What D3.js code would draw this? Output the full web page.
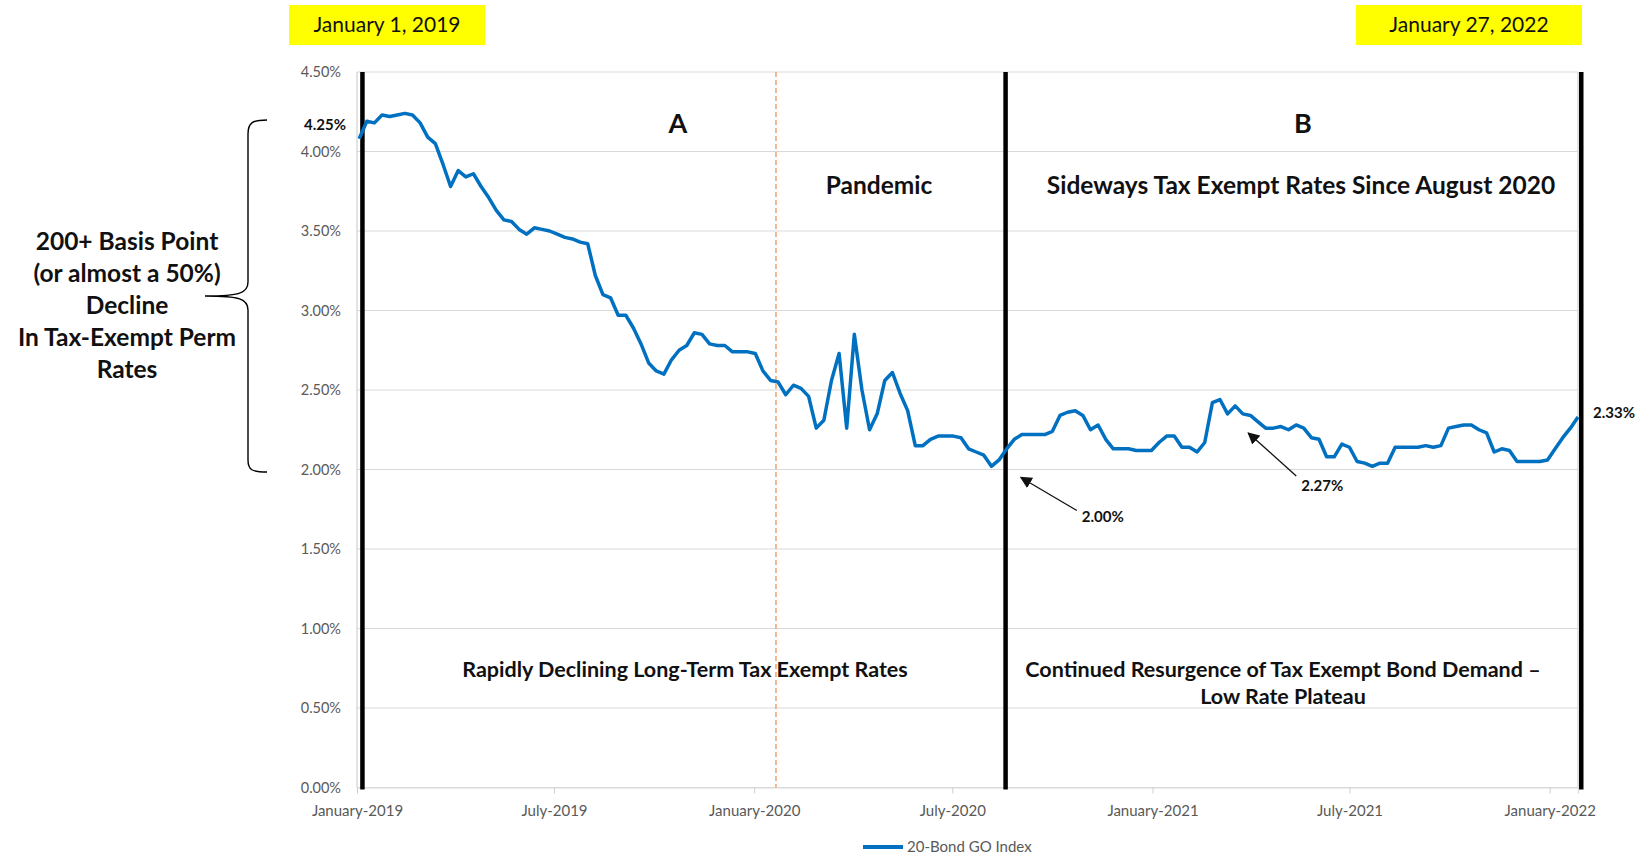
<!DOCTYPE html>
<html>
<head>
<meta charset="utf-8">
<script src="https://cdn.jsdelivr.net/npm/d3@7"></script>
<style>
	body { margin: 0; background: #fff; }
	svg { display: block; font-family: Lato, 'Open Sans', sans-serif; }
</style>
</head>
<body>
<svg id="chart" width="1643" height="855"></svg>
<script>

// Bond Buyer 20-Bond GO Index, weekly (Thursdays), in percent
var rates2019 = [4.08, 4.19, 4.18, 4.23, 4.22, 4.23, 4.24, 4.23, 4.18, 4.09,
	4.05, 3.92, 3.78, 3.88, 3.84, 3.86, 3.78, 3.71, 3.63, 3.57,
	3.56, 3.51, 3.48, 3.52, 3.51, 3.50, 3.48, 3.46, 3.45, 3.43,
	3.42, 3.22, 3.10, 3.08, 2.97, 2.97, 2.89, 2.79, 2.67, 2.62,
	2.60, 2.69, 2.75, 2.78, 2.86, 2.85, 2.79, 2.78, 2.78, 2.74,
	2.74, 2.74];
var rates2020 = [2.73, 2.62, 2.56, 2.55, 2.47, 2.53, 2.51, 2.46, 2.26, 2.31,
	2.56, 2.73, 2.26, 2.85, 2.50, 2.25, 2.35, 2.56, 2.61, 2.48,
	2.37, 2.15, 2.15, 2.19, 2.21, 2.21, 2.21, 2.20, 2.13, 2.11,
	2.09, 2.02, 2.06, 2.13, 2.19, 2.22, 2.22, 2.22, 2.22, 2.24,
	2.34, 2.36, 2.37, 2.34, 2.25, 2.28, 2.19, 2.13, 2.13, 2.13,
	2.12, 2.12, 2.12];
var rates2021 = [2.17, 2.21, 2.21, 2.14, 2.14, 2.11, 2.17, 2.42, 2.44, 2.35,
	2.40, 2.35, 2.34, 2.30, 2.26, 2.26, 2.27, 2.25, 2.28, 2.26,
	2.20, 2.19, 2.08, 2.08, 2.16, 2.14, 2.05, 2.04, 2.02, 2.04,
	2.04, 2.14, 2.14, 2.14, 2.14, 2.15, 2.14, 2.15, 2.26, 2.27,
	2.28, 2.28, 2.25, 2.23, 2.11, 2.13, 2.12, 2.05, 2.05, 2.05,
	2.05, 2.06];
var rates2022 = [2.13, 2.20, 2.26, 2.33];

var firstWeek = '2019-01-03';
var lastWeek = '2022-01-27';
var axisDates = ['2019-01-01', '2022-01-27'];
var xTickDates = ['2019-01-01', '2019-07-01', '2020-01-01', '2020-07-01', '2021-01-01', '2021-07-01', '2022-01-01'];
var yTicks = [0, 0.5, 1, 1.5, 2, 2.5, 3, 3.5, 4, 4.5];
var periodLines = ['2019-01-06', '2020-08-19', '2022-01-30'];
var pandemicLine = '2020-01-21';
var seriesName = '20-Bond GO Index';

var parse = d3.timeParse('%Y-%m-%d');
var rates = rates2019.concat(rates2020, rates2021, rates2022);
var weeks = d3.timeThursday.range(parse(firstWeek), d3.timeDay.offset(parse(lastWeek), 1));
var data = weeks.map(function(d, i) { return {date: d, rate: rates[i]}; });

var plot = {l: 357, r: 1578, t: 72, b: 787.5};
var svg = d3.select('#chart');

var x = d3.scaleTime().domain(axisDates.map(parse)).range([plot.l, plot.r]);
var y = d3.scaleLinear().domain([0, 4.5]).range([plot.b, plot.t]);

// gridlines
svg.append('g').selectAll('line')
	.data(yTicks)
	.enter()
	.append('line')
	.attr('x1', plot.l).attr('x2', plot.r)
	.attr('y1', function(d) { return y(d); })
	.attr('y2', function(d) { return y(d); })
	.style('stroke', '#d9d9d9').style('stroke-width', 1.2);

svg.append('line').attr('x1', plot.l).attr('x2', plot.l).attr('y1', plot.t).attr('y2', plot.b)
	.style('stroke', '#d0d0d0').style('stroke-width', 1.2);
svg.append('line').attr('x1', plot.r).attr('x2', plot.r).attr('y1', plot.t).attr('y2', plot.b)
	.style('stroke', '#d0d0d0').style('stroke-width', 1.2);

// y axis labels
var yAxis = svg.append('g')
	.attr('transform', 'translate(' + (plot.l - 16) + ',0)')
	.call(d3.axisLeft(y).tickValues(yTicks).tickSize(0).tickPadding(0)
		.tickFormat(function(d) { return d.toFixed(2) + '%'; }));
yAxis.attr('font-family', null);
yAxis.select('.domain').remove();
yAxis.selectAll('text').style('font-size', '14.5px').style('fill', '#595959');

// x axis
var xAxis = svg.append('g')
	.attr('transform', 'translate(0,' + plot.b + ')')
	.call(d3.axisBottom(x).tickValues(xTickDates.map(parse)).tickSize(6).tickPadding(12)
		.tickFormat(d3.timeFormat('%B-%Y')));
xAxis.attr('font-family', null);
xAxis.select('.domain').style('stroke', '#d9d9d9').style('stroke-width', 1.2);
xAxis.selectAll('.tick line').style('stroke', '#d0d0d0');
xAxis.selectAll('text').style('font-size', '15px').style('fill', '#595959');

// pandemic marker
svg.append('line')
	.attr('x1', x(parse(pandemicLine))).attr('x2', x(parse(pandemicLine)))
	.attr('y1', plot.t).attr('y2', plot.b)
	.style('stroke', '#f0a068').style('stroke-width', 1.5).style('stroke-dasharray', '5,3');

// period boundaries
svg.append('g').selectAll('line')
	.data(periodLines)
	.enter()
	.append('line')
	.attr('x1', function(d) { return x(parse(d)); })
	.attr('x2', function(d) { return x(parse(d)); })
	.attr('y1', plot.t).attr('y2', plot.b + 2)
	.style('stroke', '#000').style('stroke-width', 4.5);

// series
var line = d3.line()
	.x(function(d) { return x(d.date); })
	.y(function(d) { return y(d.rate); });

svg.append('path')
	.datum(data)
	.attr('d', line)
	.style('fill', 'none')
	.style('stroke', '#0070c0')
	.style('stroke-width', 3.5)
	.style('stroke-linejoin', 'round');

// yellow date boxes
var boxes = [
	{text: 'January 1, 2019', x0: 289, x1: 485},
	{text: 'January 27, 2022', x0: 1356, x1: 1582}
];
boxes.forEach(function(b) {
	svg.append('rect').attr('x', b.x0).attr('y', 5).attr('width', b.x1 - b.x0).attr('height', 40)
		.style('fill', '#ffff00');
	svg.append('text').attr('x', (b.x0 + b.x1) / 2).attr('y', 32)
		.attr('text-anchor', 'middle').style('font-size', '21px').style('fill', '#111')
		.text(b.text);
});

function boldText(tx, ty, size, str) {
	return svg.append('text').attr('x', tx).attr('y', ty)
		.attr('text-anchor', 'middle')
		.style('font-size', size + 'px').style('font-weight', 'bold').style('fill', '#111')
		.text(str);
}

boldText(678, 133, 27, 'A');
boldText(1303, 133, 27, 'B');
boldText(879, 194, 24.5, 'Pandemic');
boldText(1301, 194, 24.5, 'Sideways Tax Exempt Rates Since August 2020');
boldText(685, 677, 21.5, 'Rapidly Declining Long-Term Tax Exempt Rates');
boldText(1283, 677, 21.5, 'Continued Resurgence of Tax Exempt Bond Demand \u2013');
boldText(1283, 704, 21.5, 'Low Rate Plateau');

// brace and its note
['200+ Basis Point', '(or almost a 50%)', 'Decline', 'In Tax-Exempt Perm', 'Rates'].forEach(function(s, i) {
	boldText(127, 250 + i * 32, 24.5, s);
});

svg.append('path')
	.attr('d', 'M267,120 C252,120 248,123 248,134 L248,282 C248,293 240,296 205,296 ' +
		'C240,296 248,299 248,310 L248,460 C248,470 252,472 267,472')
	.style('fill', 'none').style('stroke', '#000').style('stroke-width', 1.4);

svg.append('text').attr('x', 346).attr('y', y(4.25) + 18)
	.attr('text-anchor', 'end').style('font-size', '15px').style('font-weight', 'bold').style('fill', '#111')
	.text('4.25%');

// arrows
svg.append('defs').append('marker')
	.attr('id', 'head').attr('viewBox', '0 0 10 10').attr('refX', 9).attr('refY', 5)
	.attr('markerWidth', 12).attr('markerHeight', 12).attr('markerUnits', 'userSpaceOnUse')
	.attr('orient', 'auto')
	.append('path').attr('d', 'M0,0 L10,5 L0,10 z').style('fill', '#111');

var notes = [
	{date: '2020-09-02', rate: 1.95, dx: 56, dy: 33, tx: 82, ty: 40, label: '2.00%'},
	{date: '2021-03-30', rate: 2.23, dx: 48, dy: 43, tx: 74, ty: 53, label: '2.27%'}
];
notes.forEach(function(n) {
	var px = x(parse(n.date)), py = y(n.rate);
	svg.append('line')
		.attr('x1', px + n.dx).attr('y1', py + n.dy).attr('x2', px).attr('y2', py)
		.style('stroke', '#111').style('stroke-width', 1.3).attr('marker-end', 'url(#head)');
	svg.append('text').attr('x', px + n.tx).attr('y', py + n.ty + 5)
		.attr('text-anchor', 'middle').style('font-size', '15px').style('font-weight', 'bold').style('fill', '#111')
		.text(n.label);
});

var last = data[data.length - 1];
svg.append('text').attr('x', x(last.date) + 15).attr('y', y(last.rate) + 1)
	.style('font-size', '15px').style('font-weight', 'bold').style('fill', '#111')
	.text(last.rate.toFixed(2) + '%');

// legend
svg.append('line').attr('x1', 863).attr('x2', 903).attr('y1', 847).attr('y2', 847)
	.style('stroke', '#0070c0').style('stroke-width', 4);
svg.append('text').attr('x', 907).attr('y', 852)
	.style('font-size', '15px').style('fill', '#595959')
	.text(seriesName);

</script>
</body>
</html>
